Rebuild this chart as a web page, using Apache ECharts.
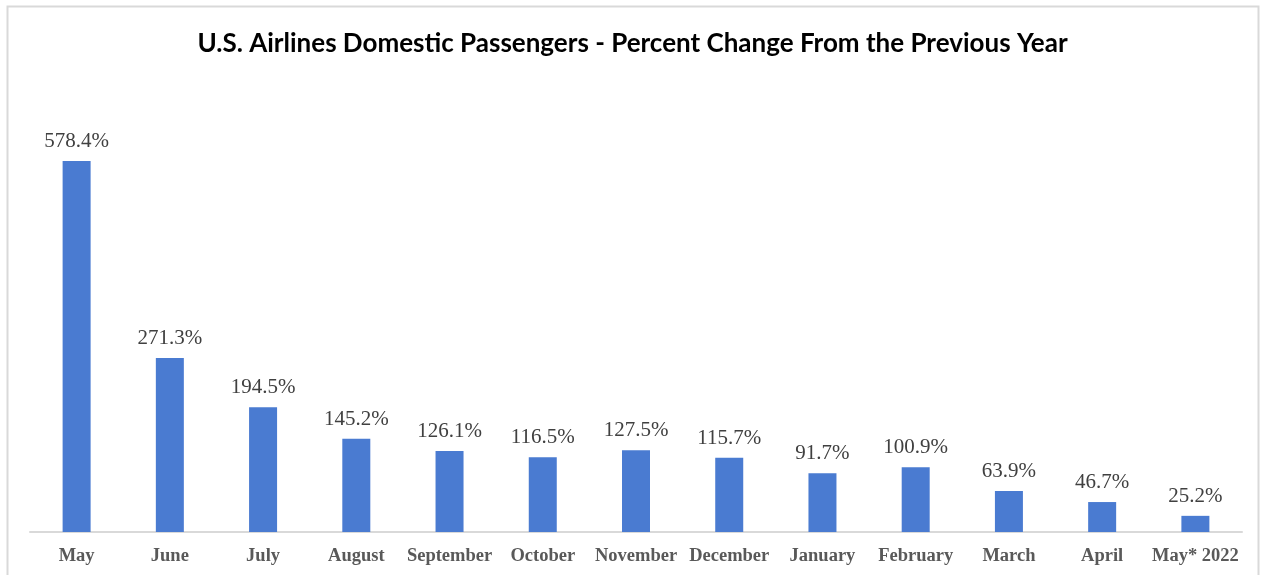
<!DOCTYPE html>
<html>
<head>
<meta charset="utf-8">
<script src="https://cdn.jsdelivr.net/npm/echarts@6/dist/echarts.min.js"></script>
<style>
  html, body { margin: 0; padding: 0; background: #ffffff; }
  #chart { width: 1265px; height: 575px; }
</style>
</head>
<body>
<div id="chart"></div>
<script>
// Monthly domestic passenger change vs. the same month a year earlier
const months = ['May', 'June', 'July', 'August', 'September', 'October', 'November',
  'December', 'January', 'February', 'March', 'April', 'May* 2022'];
const percentChange = [578.4, 271.3, 194.5, 145.2, 126.1, 116.5, 127.5,
  115.7, 91.7, 100.9, 63.9, 46.7, 25.2];
const chartTitle = 'U.S. Airlines Domestic Passengers - Percent Change From the Previous Year';

const chart = echarts.init(document.getElementById('chart'), null, { renderer: 'canvas' });

chart.setOption({
  backgroundColor: '#ffffff',
  animation: false,
  graphic: [{
    type: 'rect',
    shape: { x: 7.5, y: 6.5, width: 1251, height: 580 },
    style: { fill: 'none', stroke: '#d9d9d9', lineWidth: 2 },
    silent: true
  }],
  title: {
    text: chartTitle,
    left: 'center',
    top: 26,
    textStyle: {
      fontFamily: 'Lato',
      fontWeight: 'bold',
      fontSize: 26,
      color: '#000000'
    }
  },
  grid: { left: 30, right: 23, top: 83, bottom: 43, containLabel: false },
  xAxis: {
    type: 'category',
    data: months,
    axisLine: { lineStyle: { color: '#d9d9d9', width: 2 } },
    axisTick: { show: false },
    axisLabel: {
      interval: 0,
      margin: 15,
      fontFamily: 'Liberation Serif',
      fontWeight: 'bold',
      fontSize: 18.5,
      color: '#595959'
    }
  },
  yAxis: {
    type: 'value',
    min: 0,
    max: 700,
    show: false,
    splitLine: { show: false }
  },
  series: [{
    type: 'bar',
    data: percentChange,
    barWidth: 28,
    itemStyle: { color: '#4a7bd1' },
    label: {
      show: true,
      position: 'top',
      distance: 9,
      formatter: (p) => p.value.toFixed(1) + '%',
      fontFamily: 'Liberation Serif',
      fontSize: 21,
      color: '#404040'
    }
  }]
});
</script>
</body>
</html>
